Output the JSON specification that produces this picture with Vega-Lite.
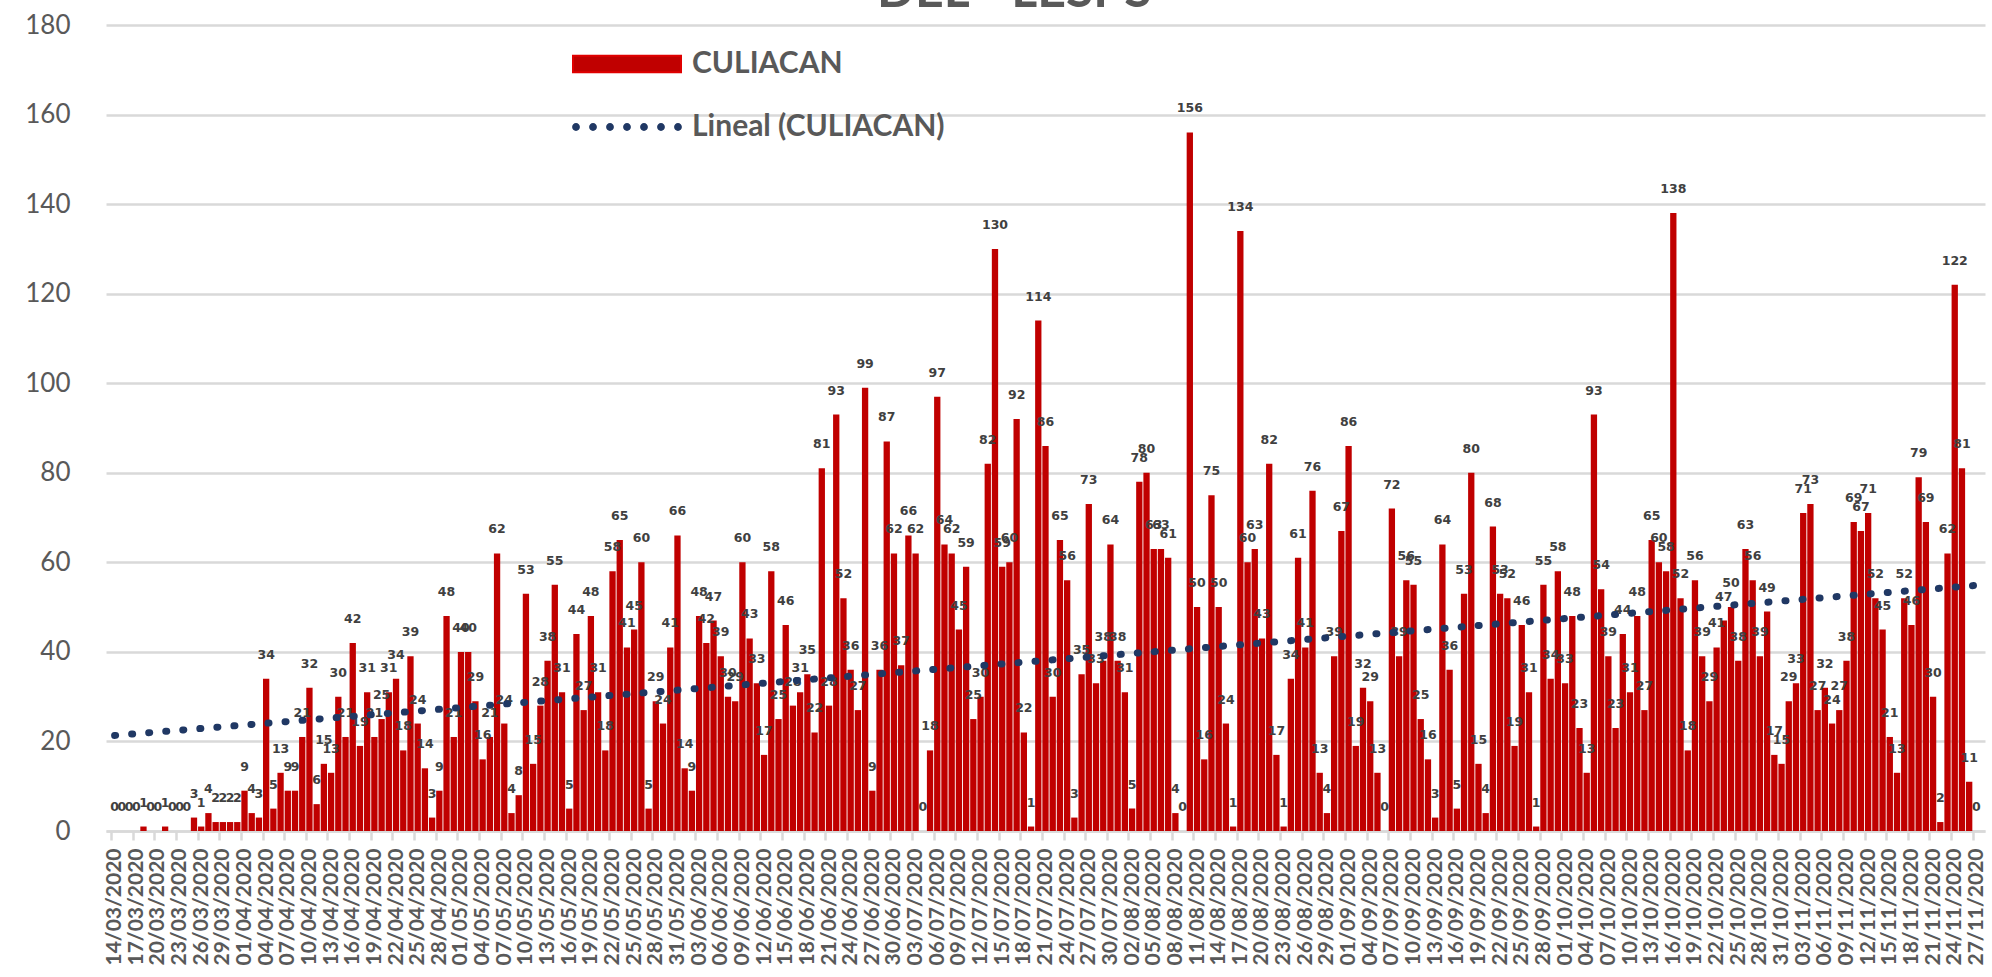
{
  "$schema": "https://vega.github.io/schema/vega-lite/v6.json",
  "width": 1879,
  "height": 806,
  "autosize": {"type": "none"},
  "padding": {"left": 106, "top": 25, "right": 7, "bottom": 146},
  "background": "white",
  "config": {"view": {"stroke": null}},
  "title": {"text": "DEL - LESPS", "font": "Lato", "fontSize": 50, "fontWeight": "bold", "color": "#595959", "anchor": "start", "frame": "group", "dx": 771, "dy": 48, "offset": 0, "baseline": "alphabetic"},
  "data": {
    "format": {"parse": {"fecha": "utc:'%Y-%m-%d'"}},
    "values": [
      {"fecha": "2020-03-14", "casos": 0}, {"fecha": "2020-03-15", "casos": 0}, {"fecha": "2020-03-16", "casos": 0}, {"fecha": "2020-03-17", "casos": 0},
      {"fecha": "2020-03-18", "casos": 1}, {"fecha": "2020-03-19", "casos": 0}, {"fecha": "2020-03-20", "casos": 0}, {"fecha": "2020-03-21", "casos": 1},
      {"fecha": "2020-03-22", "casos": 0}, {"fecha": "2020-03-23", "casos": 0}, {"fecha": "2020-03-24", "casos": 0}, {"fecha": "2020-03-25", "casos": 3},
      {"fecha": "2020-03-26", "casos": 1}, {"fecha": "2020-03-27", "casos": 4}, {"fecha": "2020-03-28", "casos": 2}, {"fecha": "2020-03-29", "casos": 2},
      {"fecha": "2020-03-30", "casos": 2}, {"fecha": "2020-03-31", "casos": 2},
      {"fecha": "2020-04-01", "casos": 9}, {"fecha": "2020-04-02", "casos": 4}, {"fecha": "2020-04-03", "casos": 3}, {"fecha": "2020-04-04", "casos": 34},
      {"fecha": "2020-04-05", "casos": 5}, {"fecha": "2020-04-06", "casos": 13}, {"fecha": "2020-04-07", "casos": 9}, {"fecha": "2020-04-08", "casos": 9},
      {"fecha": "2020-04-09", "casos": 21}, {"fecha": "2020-04-10", "casos": 32}, {"fecha": "2020-04-11", "casos": 6}, {"fecha": "2020-04-12", "casos": 15},
      {"fecha": "2020-04-13", "casos": 13}, {"fecha": "2020-04-14", "casos": 30}, {"fecha": "2020-04-15", "casos": 21}, {"fecha": "2020-04-16", "casos": 42},
      {"fecha": "2020-04-17", "casos": 19}, {"fecha": "2020-04-18", "casos": 31}, {"fecha": "2020-04-19", "casos": 21}, {"fecha": "2020-04-20", "casos": 25},
      {"fecha": "2020-04-21", "casos": 31}, {"fecha": "2020-04-22", "casos": 34}, {"fecha": "2020-04-23", "casos": 18}, {"fecha": "2020-04-24", "casos": 39},
      {"fecha": "2020-04-25", "casos": 24}, {"fecha": "2020-04-26", "casos": 14}, {"fecha": "2020-04-27", "casos": 3}, {"fecha": "2020-04-28", "casos": 9},
      {"fecha": "2020-04-29", "casos": 48}, {"fecha": "2020-04-30", "casos": 21},
      {"fecha": "2020-05-01", "casos": 40}, {"fecha": "2020-05-02", "casos": 40}, {"fecha": "2020-05-03", "casos": 29}, {"fecha": "2020-05-04", "casos": 16},
      {"fecha": "2020-05-05", "casos": 21}, {"fecha": "2020-05-06", "casos": 62}, {"fecha": "2020-05-07", "casos": 24}, {"fecha": "2020-05-08", "casos": 4},
      {"fecha": "2020-05-09", "casos": 8}, {"fecha": "2020-05-10", "casos": 53}, {"fecha": "2020-05-11", "casos": 15}, {"fecha": "2020-05-12", "casos": 28},
      {"fecha": "2020-05-13", "casos": 38}, {"fecha": "2020-05-14", "casos": 55}, {"fecha": "2020-05-15", "casos": 31}, {"fecha": "2020-05-16", "casos": 5},
      {"fecha": "2020-05-17", "casos": 44}, {"fecha": "2020-05-18", "casos": 27}, {"fecha": "2020-05-19", "casos": 48}, {"fecha": "2020-05-20", "casos": 31},
      {"fecha": "2020-05-21", "casos": 18}, {"fecha": "2020-05-22", "casos": 58}, {"fecha": "2020-05-23", "casos": 65}, {"fecha": "2020-05-24", "casos": 41},
      {"fecha": "2020-05-25", "casos": 45}, {"fecha": "2020-05-26", "casos": 60}, {"fecha": "2020-05-27", "casos": 5}, {"fecha": "2020-05-28", "casos": 29},
      {"fecha": "2020-05-29", "casos": 24}, {"fecha": "2020-05-30", "casos": 41}, {"fecha": "2020-05-31", "casos": 66},
      {"fecha": "2020-06-01", "casos": 14}, {"fecha": "2020-06-02", "casos": 9}, {"fecha": "2020-06-03", "casos": 48}, {"fecha": "2020-06-04", "casos": 42},
      {"fecha": "2020-06-05", "casos": 47}, {"fecha": "2020-06-06", "casos": 39}, {"fecha": "2020-06-07", "casos": 30}, {"fecha": "2020-06-08", "casos": 29},
      {"fecha": "2020-06-09", "casos": 60}, {"fecha": "2020-06-10", "casos": 43}, {"fecha": "2020-06-11", "casos": 33}, {"fecha": "2020-06-12", "casos": 17},
      {"fecha": "2020-06-13", "casos": 58}, {"fecha": "2020-06-14", "casos": 25}, {"fecha": "2020-06-15", "casos": 46}, {"fecha": "2020-06-16", "casos": 28},
      {"fecha": "2020-06-17", "casos": 31}, {"fecha": "2020-06-18", "casos": 35}, {"fecha": "2020-06-19", "casos": 22}, {"fecha": "2020-06-20", "casos": 81},
      {"fecha": "2020-06-21", "casos": 28}, {"fecha": "2020-06-22", "casos": 93}, {"fecha": "2020-06-23", "casos": 52}, {"fecha": "2020-06-24", "casos": 36},
      {"fecha": "2020-06-25", "casos": 27}, {"fecha": "2020-06-26", "casos": 99}, {"fecha": "2020-06-27", "casos": 9}, {"fecha": "2020-06-28", "casos": 36},
      {"fecha": "2020-06-29", "casos": 87}, {"fecha": "2020-06-30", "casos": 62},
      {"fecha": "2020-07-01", "casos": 37}, {"fecha": "2020-07-02", "casos": 66}, {"fecha": "2020-07-03", "casos": 62}, {"fecha": "2020-07-04", "casos": 0},
      {"fecha": "2020-07-05", "casos": 18}, {"fecha": "2020-07-06", "casos": 97}, {"fecha": "2020-07-07", "casos": 64}, {"fecha": "2020-07-08", "casos": 62},
      {"fecha": "2020-07-09", "casos": 45}, {"fecha": "2020-07-10", "casos": 59}, {"fecha": "2020-07-11", "casos": 25}, {"fecha": "2020-07-12", "casos": 30},
      {"fecha": "2020-07-13", "casos": 82}, {"fecha": "2020-07-14", "casos": 130}, {"fecha": "2020-07-15", "casos": 59}, {"fecha": "2020-07-16", "casos": 60},
      {"fecha": "2020-07-17", "casos": 92}, {"fecha": "2020-07-18", "casos": 22}, {"fecha": "2020-07-19", "casos": 1}, {"fecha": "2020-07-20", "casos": 114},
      {"fecha": "2020-07-21", "casos": 86}, {"fecha": "2020-07-22", "casos": 30}, {"fecha": "2020-07-23", "casos": 65}, {"fecha": "2020-07-24", "casos": 56},
      {"fecha": "2020-07-25", "casos": 3}, {"fecha": "2020-07-26", "casos": 35}, {"fecha": "2020-07-27", "casos": 73}, {"fecha": "2020-07-28", "casos": 33},
      {"fecha": "2020-07-29", "casos": 38}, {"fecha": "2020-07-30", "casos": 64}, {"fecha": "2020-07-31", "casos": 38},
      {"fecha": "2020-08-01", "casos": 31}, {"fecha": "2020-08-02", "casos": 5}, {"fecha": "2020-08-03", "casos": 78}, {"fecha": "2020-08-04", "casos": 80},
      {"fecha": "2020-08-05", "casos": 63}, {"fecha": "2020-08-06", "casos": 63}, {"fecha": "2020-08-07", "casos": 61}, {"fecha": "2020-08-08", "casos": 4},
      {"fecha": "2020-08-09", "casos": 0}, {"fecha": "2020-08-10", "casos": 156}, {"fecha": "2020-08-11", "casos": 50}, {"fecha": "2020-08-12", "casos": 16},
      {"fecha": "2020-08-13", "casos": 75}, {"fecha": "2020-08-14", "casos": 50}, {"fecha": "2020-08-15", "casos": 24}, {"fecha": "2020-08-16", "casos": 1},
      {"fecha": "2020-08-17", "casos": 134}, {"fecha": "2020-08-18", "casos": 60}, {"fecha": "2020-08-19", "casos": 63}, {"fecha": "2020-08-20", "casos": 43},
      {"fecha": "2020-08-21", "casos": 82}, {"fecha": "2020-08-22", "casos": 17}, {"fecha": "2020-08-23", "casos": 1}, {"fecha": "2020-08-24", "casos": 34},
      {"fecha": "2020-08-25", "casos": 61}, {"fecha": "2020-08-26", "casos": 41}, {"fecha": "2020-08-27", "casos": 76}, {"fecha": "2020-08-28", "casos": 13},
      {"fecha": "2020-08-29", "casos": 4}, {"fecha": "2020-08-30", "casos": 39}, {"fecha": "2020-08-31", "casos": 67},
      {"fecha": "2020-09-01", "casos": 86}, {"fecha": "2020-09-02", "casos": 19}, {"fecha": "2020-09-03", "casos": 32}, {"fecha": "2020-09-04", "casos": 29},
      {"fecha": "2020-09-05", "casos": 13}, {"fecha": "2020-09-06", "casos": 0}, {"fecha": "2020-09-07", "casos": 72}, {"fecha": "2020-09-08", "casos": 39},
      {"fecha": "2020-09-09", "casos": 56}, {"fecha": "2020-09-10", "casos": 55}, {"fecha": "2020-09-11", "casos": 25}, {"fecha": "2020-09-12", "casos": 16},
      {"fecha": "2020-09-13", "casos": 3}, {"fecha": "2020-09-14", "casos": 64}, {"fecha": "2020-09-15", "casos": 36}, {"fecha": "2020-09-16", "casos": 5},
      {"fecha": "2020-09-17", "casos": 53}, {"fecha": "2020-09-18", "casos": 80}, {"fecha": "2020-09-19", "casos": 15}, {"fecha": "2020-09-20", "casos": 4},
      {"fecha": "2020-09-21", "casos": 68}, {"fecha": "2020-09-22", "casos": 53}, {"fecha": "2020-09-23", "casos": 52}, {"fecha": "2020-09-24", "casos": 19},
      {"fecha": "2020-09-25", "casos": 46}, {"fecha": "2020-09-26", "casos": 31}, {"fecha": "2020-09-27", "casos": 1}, {"fecha": "2020-09-28", "casos": 55},
      {"fecha": "2020-09-29", "casos": 34}, {"fecha": "2020-09-30", "casos": 58},
      {"fecha": "2020-10-01", "casos": 33}, {"fecha": "2020-10-02", "casos": 48}, {"fecha": "2020-10-03", "casos": 23}, {"fecha": "2020-10-04", "casos": 13},
      {"fecha": "2020-10-05", "casos": 93}, {"fecha": "2020-10-06", "casos": 54}, {"fecha": "2020-10-07", "casos": 39}, {"fecha": "2020-10-08", "casos": 23},
      {"fecha": "2020-10-09", "casos": 44}, {"fecha": "2020-10-10", "casos": 31}, {"fecha": "2020-10-11", "casos": 48}, {"fecha": "2020-10-12", "casos": 27},
      {"fecha": "2020-10-13", "casos": 65}, {"fecha": "2020-10-14", "casos": 60}, {"fecha": "2020-10-15", "casos": 58}, {"fecha": "2020-10-16", "casos": 138},
      {"fecha": "2020-10-17", "casos": 52}, {"fecha": "2020-10-18", "casos": 18}, {"fecha": "2020-10-19", "casos": 56}, {"fecha": "2020-10-20", "casos": 39},
      {"fecha": "2020-10-21", "casos": 29}, {"fecha": "2020-10-22", "casos": 41}, {"fecha": "2020-10-23", "casos": 47}, {"fecha": "2020-10-24", "casos": 50},
      {"fecha": "2020-10-25", "casos": 38}, {"fecha": "2020-10-26", "casos": 63}, {"fecha": "2020-10-27", "casos": 56}, {"fecha": "2020-10-28", "casos": 39},
      {"fecha": "2020-10-29", "casos": 49}, {"fecha": "2020-10-30", "casos": 17}, {"fecha": "2020-10-31", "casos": 15},
      {"fecha": "2020-11-01", "casos": 29}, {"fecha": "2020-11-02", "casos": 33}, {"fecha": "2020-11-03", "casos": 71}, {"fecha": "2020-11-04", "casos": 73},
      {"fecha": "2020-11-05", "casos": 27}, {"fecha": "2020-11-06", "casos": 32}, {"fecha": "2020-11-07", "casos": 24}, {"fecha": "2020-11-08", "casos": 27},
      {"fecha": "2020-11-09", "casos": 38}, {"fecha": "2020-11-10", "casos": 69}, {"fecha": "2020-11-11", "casos": 67}, {"fecha": "2020-11-12", "casos": 71},
      {"fecha": "2020-11-13", "casos": 52}, {"fecha": "2020-11-14", "casos": 45}, {"fecha": "2020-11-15", "casos": 21}, {"fecha": "2020-11-16", "casos": 13},
      {"fecha": "2020-11-17", "casos": 52}, {"fecha": "2020-11-18", "casos": 46}, {"fecha": "2020-11-19", "casos": 79}, {"fecha": "2020-11-20", "casos": 69},
      {"fecha": "2020-11-21", "casos": 30}, {"fecha": "2020-11-22", "casos": 2}, {"fecha": "2020-11-23", "casos": 62}, {"fecha": "2020-11-24", "casos": 122},
      {"fecha": "2020-11-25", "casos": 81}, {"fecha": "2020-11-26", "casos": 11}, {"fecha": "2020-11-27", "casos": 0}
    ]
  },
  "layer": [
    {
      "mark": {"type": "bar", "size": 6.3},
      "encoding": {
        "x": {
          "field": "fecha", "type": "temporal",
          "scale": {"type": "utc", "domain": [1584100800000, 1606478400000]},
          "axis": {
            "title": null, "grid": false, "tickCount": 200,
            "values": [1584144000000, 1584403200000, 1584662400000, 1584921600000, 1585180800000, 1585440000000, 1585699200000, 1585958400000, 1586217600000, 1586476800000, 1586736000000, 1586995200000, 1587254400000, 1587513600000, 1587772800000, 1588032000000, 1588291200000, 1588550400000, 1588809600000, 1589068800000, 1589328000000, 1589587200000, 1589846400000, 1590105600000, 1590364800000, 1590624000000, 1590883200000, 1591142400000, 1591401600000, 1591660800000, 1591920000000, 1592179200000, 1592438400000, 1592697600000, 1592956800000, 1593216000000, 1593475200000, 1593734400000, 1593993600000, 1594252800000, 1594512000000, 1594771200000, 1595030400000, 1595289600000, 1595548800000, 1595808000000, 1596067200000, 1596326400000, 1596585600000, 1596844800000, 1597104000000, 1597363200000, 1597622400000, 1597881600000, 1598140800000, 1598400000000, 1598659200000, 1598918400000, 1599177600000, 1599436800000, 1599696000000, 1599955200000, 1600214400000, 1600473600000, 1600732800000, 1600992000000, 1601251200000, 1601510400000, 1601769600000, 1602028800000, 1602288000000, 1602547200000, 1602806400000, 1603065600000, 1603324800000, 1603584000000, 1603843200000, 1604102400000, 1604361600000, 1604620800000, 1604880000000, 1605139200000, 1605398400000, 1605657600000, 1605916800000, 1606176000000, 1606435200000],
            "labelExpr": "utcFormat(datum.value, '%d/%m/%Y')",
            "labelAngle": 270, "labelAlign": "right", "labelBaseline": "middle",
            "labelFont": "Lato", "labelFontWeight": "bold", "labelFontSize": 21, "labelColor": "#595959",
            "labelPadding": 8, "labelOverlap": false, "labelFlush": false,
            "tickSize": 9, "tickColor": "#d9d9d9", "tickWidth": 2.5,
            "tickOffset": -3.63, "labelOffset": 3.63,
            "domainColor": "#d9d9d9", "domainWidth": 2.5
          }
        },
        "y": {
          "field": "casos", "type": "quantitative",
          "scale": {"domain": [0, 180]},
          "axis": {
            "title": null, "values": [0, 20, 40, 60, 80, 100, 120, 140, 160, 180],
            "grid": true, "gridColor": "#d9d9d9", "gridWidth": 2.5,
            "domain": false, "ticks": false,
            "labelFont": "Lato", "labelFontSize": 26, "labelColor": "#595959", "labelPadding": 36
          }
        },
        "fill": {
          "datum": "CULIACAN", "type": "nominal",
          "scale": {"range": ["#C00000"]},
          "legend": {
            "orient": "none", "legendX": 466, "legendY": -16, "title": null,
            "symbolType": "M-1,-0.155H1V0.155H-1Z", "symbolSize": 11664,
            "symbolStrokeColor": "#E00000", "symbolStrokeWidth": 2,
            "labelFont": "Lato", "labelFontSize": 30, "labelFontWeight": "bold", "labelColor": "#595959", "labelOffset": 10, "labelLimit": 500
          }
        }
      }
    },
    {
      "mark": {"type": "text", "font": "DejaVu Sans", "fontSize": 12.5, "fontWeight": "bold", "color": "#404040", "baseline": "alphabetic", "dy": -20},
      "encoding": {
        "x": {"field": "fecha", "type": "temporal"},
        "y": {"field": "casos", "type": "quantitative"},
        "text": {"field": "casos", "type": "quantitative"}
      }
    },
    {
      "transform": [{"regression": "casos", "on": "fecha"}],
      "mark": {"type": "line", "strokeWidth": 7, "strokeCap": "round", "strokeDash": [1, 16.1]},
      "encoding": {
        "x": {"field": "fecha", "type": "temporal"},
        "y": {"field": "casos", "type": "quantitative"},
        "stroke": {
          "datum": "Lineal (CULIACAN)", "type": "nominal",
          "scale": {"range": ["#203864"]},
          "legend": {
            "orient": "none", "legendX": 466, "legendY": 47, "title": null,
            "symbolType": "M-0.998,0a0.071,0.071 0 1,0 0.142,0a0.071,0.071 0 1,0 -0.142,0M-0.689,0a0.071,0.071 0 1,0 0.142,0a0.071,0.071 0 1,0 -0.142,0M-0.38,0a0.071,0.071 0 1,0 0.142,0a0.071,0.071 0 1,0 -0.142,0M-0.071,0a0.071,0.071 0 1,0 0.142,0a0.071,0.071 0 1,0 -0.142,0M0.238,0a0.071,0.071 0 1,0 0.142,0a0.071,0.071 0 1,0 -0.142,0M0.547,0a0.071,0.071 0 1,0 0.142,0a0.071,0.071 0 1,0 -0.142,0M0.856,0a0.071,0.071 0 1,0 0.142,0a0.071,0.071 0 1,0 -0.142,0",
            "symbolSize": 12100, "symbolFillColor": "#203864", "symbolStrokeWidth": 0,
            "labelFont": "Lato", "labelFontSize": 30, "labelFontWeight": "bold", "labelColor": "#595959", "labelOffset": 10, "labelLimit": 500
          }
        }
      }
    }
  ]
}
